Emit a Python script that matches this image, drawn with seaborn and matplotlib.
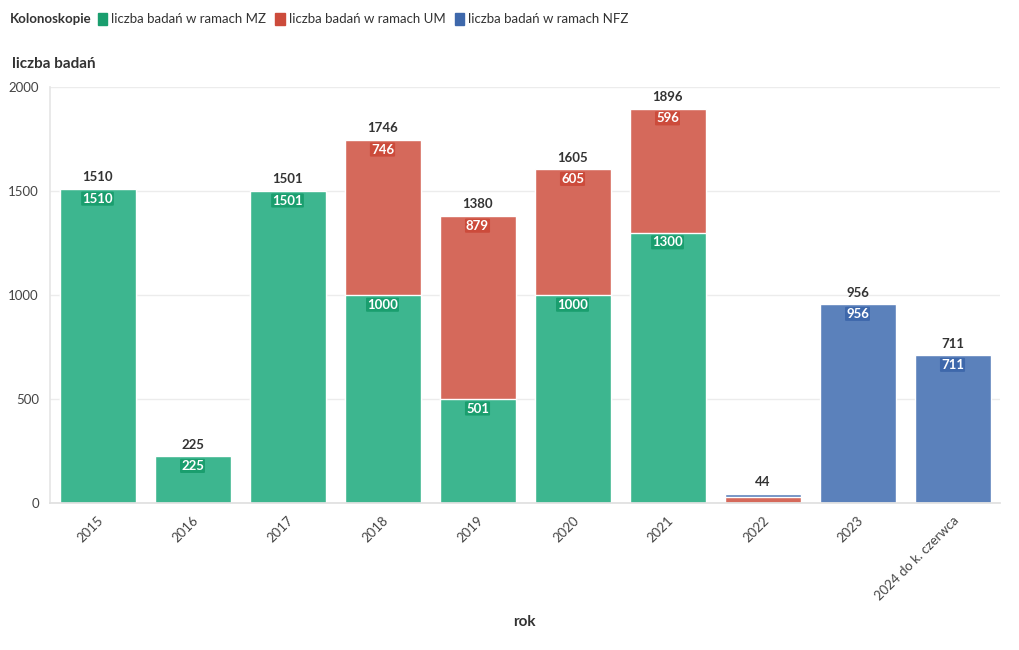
import pandas as pd
import matplotlib.pyplot as plt
import matplotlib.patches as mpatches
import seaborn as sns

# Dane: liczba kolonoskopii wg źródła finansowania
years = ["2015", "2016", "2017", "2018", "2019", "2020", "2021", "2022", "2023", "2024 do k. czerwca"]
mz = [1510, 225, 1501, 1000, 501, 1000, 1300, 0, 0, 0]
um = [0, 0, 0, 746, 879, 605, 596, 30, 0, 0]
nfz = [0, 0, 0, 0, 0, 0, 0, 14, 956, 711]

names = ["liczba badań w ramach MZ", "liczba badań w ramach UM", "liczba badań w ramach NFZ"]
bar_colors = ["#3db68f", "#d5695b", "#5b81bb"]
dark_colors = ["#1a9e6e", "#cc4b3b", "#3e68ab"]

df = pd.DataFrame({"rok": years, "MZ": mz, "UM": um, "NFZ": nfz})
df["c1"] = df["MZ"]
df["c2"] = df["MZ"] + df["UM"]
df["c3"] = df["c2"] + df["NFZ"]

sns.set_theme(style="white")
plt.rcParams["font.family"] = ["Lato", "DejaVu Sans"]

fig = plt.figure(figsize=(10.2, 6.5), dpi=100)
ax = fig.add_axes([50 / 1020, 1 - 503 / 650, 950 / 1020, 416 / 650])

# stacked bars drawn as cumulative overlays (largest first)
for col, c in [("c3", bar_colors[2]), ("c2", bar_colors[1]), ("c1", bar_colors[0])]:
    sns.barplot(data=df, x="rok", y=col, color=c, width=0.8, edgecolor="white",
                linewidth=1.0, saturation=1, ax=ax, zorder=2)

ax.set_xlim(-0.5, 9.5)
ax.set_ylim(0, 2000)
ax.set_yticks([0, 500, 1000, 1500, 2000])
ax.yaxis.grid(True, color="#ececec", linewidth=1, zorder=0)
ax.set_axisbelow(True)
for s in ["top", "right"]:
    ax.spines[s].set_visible(False)
ax.spines["left"].set_color("#e6e6e6")
ax.spines["bottom"].set_color("#e0e0e0")
ax.tick_params(axis="y", length=0, labelsize=9.5, labelcolor="#444444", pad=8)
ax.tick_params(axis="x", length=4, color="#d8d8d8", labelsize=9.5, labelcolor="#444444", pad=4)
plt.setp(ax.get_xticklabels(), rotation=45, ha="right", rotation_mode="anchor")
ax.set_ylabel("")
ax.set_xlabel("")

# labels
for i, row in df.iterrows():
    total = row["c3"]
    ax.annotate(f"{total}", (i, total), xytext=(0, 4), textcoords="offset points",
                ha="center", va="bottom", fontsize=9.5, fontweight="bold", color="#333333")
    if i == 7:
        continue
    for val, top, dc in [(row["MZ"], row["c1"], dark_colors[0]),
                         (row["UM"], row["c2"], dark_colors[1]),
                         (row["NFZ"], row["c3"], dark_colors[2])]:
        if val > 0:
            ax.annotate(f"{val}", (i, top), xytext=(0, -7), textcoords="offset points",
                        ha="center", va="center", fontsize=9.5, fontweight="bold", color="white",
                        bbox=dict(boxstyle="round,pad=0.08", facecolor=dc, edgecolor="none"))

fig.text(12 / 1020, 1 - 64 / 650, "liczba badań", fontsize=11, fontweight="bold",
         color="#333333", va="center", ha="left")
fig.text(524 / 1020, 1 - 622 / 650, "rok", fontsize=11, fontweight="bold",
         color="#333333", va="center", ha="center")

# legend
fig.text(10 / 1020, 1 - 19 / 650, "Kolonoskopie", fontsize=9.5, fontweight="bold",
         color="#333333", va="center", ha="left")
handles = [mpatches.FancyBboxPatch((0, 0), 1, 1, boxstyle="round,pad=0.1", color=c) for c in dark_colors]
leg = fig.legend(handles, names, loc="center left", bbox_to_anchor=(98 / 1020, 1 - 19 / 650),
                 ncol=3, frameon=False, fontsize=9.5, handlelength=0.7, handleheight=1.1,
                 handletextpad=0.3, columnspacing=0.7, borderaxespad=0, borderpad=0)
for t in leg.get_texts():
    t.set_color("#333333")

fig.savefig("out.png", dpi=100)
